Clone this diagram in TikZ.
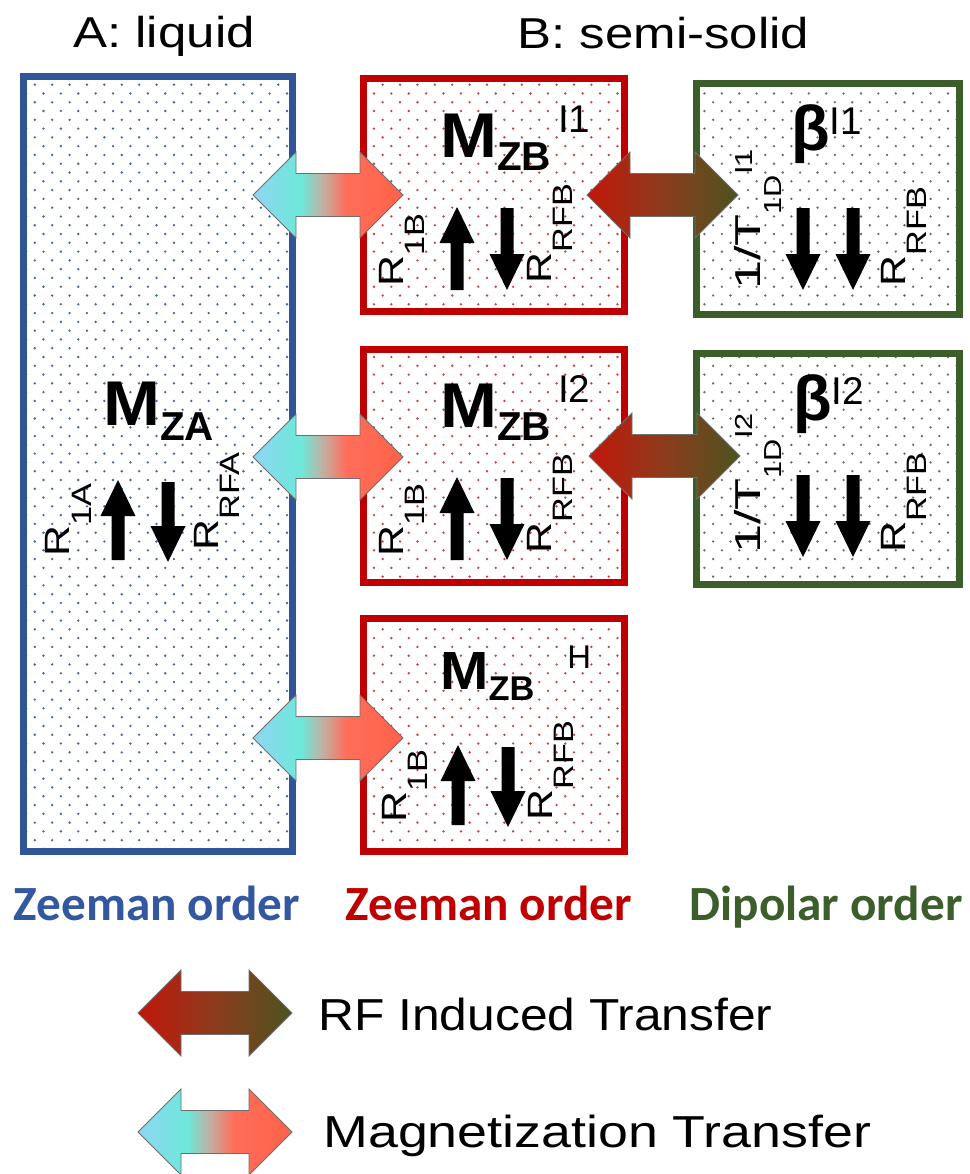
\documentclass[tikz,border=0pt]{standalone}
\usepackage{fontspec}
\setmainfont{Liberation Sans}
\newfontfamily\titlefont[FakeStretch=1.18]{Liberation Sans}
\newfontfamily\orderfont{Carlito}
\usetikzlibrary{calc,patterns}
\definecolor{blueC}{HTML}{2F5597}
\definecolor{blueT}{HTML}{3357A0}
\definecolor{redC}{HTML}{C00000}
\definecolor{greenC}{HTML}{3B5E2B}
\definecolor{blueDot}{HTML}{4263AE}
\definecolor{redDot}{HTML}{CC4040}
\definecolor{greenDot}{HTML}{6A6A6A}
\definecolor{magA}{HTML}{8ED5F2}
\definecolor{magB}{HTML}{6DE8DA}
\definecolor{magC}{HTML}{C4ADA0}
\definecolor{magD}{HTML}{FF6E5A}
\definecolor{magE}{HTML}{FF6248}
\definecolor{rfA}{HTML}{C2160A}
\definecolor{rfB}{HTML}{8C3C1C}
\definecolor{rfC}{HTML}{4B5320}
\definecolor{arrowedge}{HTML}{6E6E6E}
\pgfdeclarehorizontalshading{magshade}{100bp}{color(0bp)=(magA); color(25bp)=(magA); color(41bp)=(magB); color(48.5bp)=(magC); color(56bp)=(magD); color(75bp)=(magE); color(100bp)=(magE)}
\pgfdeclarehorizontalshading{rfshade}{100bp}{color(0bp)=(rfA); color(25bp)=(rfA); color(50bp)=(rfB); color(75bp)=(rfC); color(100bp)=(rfC)}
\pgfdeclarepatternformonly{sdots}{\pgfqpoint{-1pt}{-1pt}}{\pgfqpoint{10.9pt}{11pt}}{\pgfqpoint{9.9pt}{10pt}}{%
  \pgfpathcircle{\pgfqpoint{0pt}{0pt}}{0.75pt}%
  \pgfpathcircle{\pgfqpoint{4.95pt}{5pt}}{0.75pt}%
  \pgfusepath{fill}}
% labels
\newcommand{\Mlab}[5]{{\fontsize{36}{36}\selectfont\bfseries\scalebox{1.08}[1]{#1}}\raisebox{-#4}{\fontsize{23}{23}\selectfont\bfseries #2}\hspace{#5}\raisebox{14pt}{\fontsize{22}{22}\selectfont #3}}
\newcommand{\Rlab}[2]{\scalebox{1.22}[1]{{\fontsize{20}{20}\selectfont #1}\raisebox{-12.5pt}{\fontsize{16}{16}\selectfont #2}}}
\newcommand{\Tlab}[1]{\scalebox{1.45}[1]{\fontsize{20.5}{20}\selectfont 1/T}\scalebox{1.25}[1]{\raisebox{-12.5pt}{\fontsize{14}{14}\selectfont 1D}\raisebox{4.5pt}{\fontsize{14}{14}\selectfont #1}}}
\newcommand{\Blab}[1]{{\fontsize{36}{36}\selectfont\bfseries β}\raisebox{9pt}{\fontsize{22}{22}\selectfont #1}}
% black thick arrows (x, start y, tip y)
\newcommand{\vup}[3]{\fill (#1-6.5,#2) -- (#1-6.5,#3+36) -- (#1-17.5,#3+36) -- (#1,#3) -- (#1+17.5,#3+36) -- (#1+6.5,#3+36) -- (#1+6.5,#2) -- cycle;}
\newcommand{\vdown}[3]{\fill (#1-6.5,#2) -- (#1-6.5,#3-36) -- (#1-17.5,#3-36) -- (#1,#3) -- (#1+17.5,#3-36) -- (#1+6.5,#3-36) -- (#1+6.5,#2) -- cycle;}
% fat double arrow between two named coordinates
\newcommand{\dblarrow}[3]{\shadedraw[shading=#3, fat] (#1) -- ($(#1)+(43,-43)$) -- ($(#1)+(43,-21.5)$) -- ($(#2)+(-43,-21.5)$) -- ($(#2)+(-43,-43)$) -- (#2) -- ($(#2)+(-43,43)$) -- ($(#2)+(-43,21.5)$) -- ($(#1)+(43,21.5)$) -- ($(#1)+(43,43)$) -- cycle;}
\begin{document}
\begin{tikzpicture}[x=0.02cm,y=-0.02cm,
  obox/.style={rectangle, inner sep=0, outer sep=0, line width=0.14cm, pattern=sdots},
  rot/.style={rotate=90, anchor=base west, inner sep=0},
  lab/.style={anchor=base west, inner sep=0},
  ordl/.style={anchor=base, inner sep=0, font=\orderfont\bfseries\fontsize{28}{30}\selectfont},
  leg/.style={anchor=base west, inner sep=0, font=\fontsize{25.5}{27}\selectfont},
  fat/.style={draw=arrowedge, line width=0.5pt}]
\useasboundingbox (0,0) rectangle (970,1174);
% titles
\node[lab] (tA) at (73,47) {\titlefont\fontsize{24.6}{26}\selectfont A: liquid};
\node[lab] (tB) at (517,48) {\titlefont\fontsize{24.6}{26}\selectfont B: semi-solid};
% boxes
\node[obox, draw=blueC, pattern color=blueDot, minimum width=269*0.02cm, minimum height=775*0.02cm] (A) at (158,464) {};
\node[obox, draw=redC, pattern color=redDot, minimum width=261*0.02cm, minimum height=233*0.02cm] (B1) at (494,195) {};
\node[obox, draw=redC, pattern color=redDot, minimum width=261*0.02cm, minimum height=233*0.02cm] (B2) at (494,466) {};
\node[obox, draw=redC, pattern color=redDot, minimum width=261*0.02cm, minimum height=233*0.02cm] (B3) at (494,735) {};
\node[obox, draw=greenC, pattern color=greenDot, minimum width=263*0.02cm, minimum height=231*0.02cm] (D1) at (828,199) {};
\node[obox, draw=greenC, pattern color=greenDot, minimum width=263*0.02cm, minimum height=231*0.02cm] (D2) at (828,469) {};
% arrow end points
\coordinate (m1L) at (253,195); \coordinate (m1R) at (403,195);
\coordinate (m2L) at (253,457); \coordinate (m2R) at (403,457);
\coordinate (m3L) at (253,738); \coordinate (m3R) at (403,738);
\coordinate (r1L) at (587,195); \coordinate (r1R) at (738,195);
\coordinate (r2L) at (589,456); \coordinate (r2R) at (740,456);
\coordinate (lrL) at (138,1013); \coordinate (lrR) at (292,1013);
\coordinate (lmL) at (138,1132); \coordinate (lmR) at (292,1132);
\dblarrow{m1L}{m1R}{magshade}
\dblarrow{m2L}{m2R}{magshade}
\dblarrow{m3L}{m3R}{magshade}
\dblarrow{r1L}{r1R}{rfshade}
\dblarrow{r2L}{r2R}{rfshade}
\dblarrow{lrL}{lrR}{rfshade}
\dblarrow{lmL}{lmR}{magshade}
% main labels
\node[lab] (mza) at (103,425) {\Mlab{M}{ZA}{}{9pt}{0pt}};
\node[lab] (mzb1) at (440,157) {\Mlab{M}{ZB}{I1}{7.5pt}{4pt}};
\node[lab] (mzb2) at (440,427) {\Mlab{M}{ZB}{I2}{7.5pt}{4pt}};
\node[lab] (mzb3) at (440,689) {\scalebox{0.85}{\Mlab{M}{ZB}{H}{7.5pt}{22pt}}};
\node[lab] (beta1) at (791,150) {\Blab{I1}};
\node[lab] (beta2) at (793,420) {\Blab{I2}};
% rotated rate labels
\node[rot] (ra1) at (70,557) {\Rlab{R}{1A}};
\node[rot] (ra2) at (218,551) {\Rlab{R}{RFA}};
\node[rot] (rb11) at (403,287) {\Rlab{R}{1B}};
\node[rot] (rb12) at (551,284) {\Rlab{R}{RFB}};
\node[rot] (rb21) at (403,557) {\Rlab{R}{1B}};
\node[rot] (rb22) at (551,554) {\Rlab{R}{RFB}};
\node[rot] (rb31) at (406,823) {\Rlab{R}{1B}};
\node[rot] (rb32) at (552,821) {\Rlab{R}{RFB}};
\node[rot] (td1) at (760,290) {\Tlab{I1}};
\node[rot] (rd1) at (905,287) {\Rlab{R}{RFB}};
\node[rot] (td2) at (760,554) {\Tlab{I2}};
\node[rot] (rd2) at (905,553) {\Rlab{R}{RFB}};
% black arrows
\vup{118}{560}{480}
\vdown{168}{482}{562}
\vup{457}{290}{207}
\vdown{507}{208}{290}
\vup{457}{560}{477}
\vdown{507}{478}{560}
\vup{458}{825}{745}
\vdown{508}{747}{827}
\vdown{803}{208}{290}
\vdown{853}{208}{290}
\vdown{803}{475}{557}
\vdown{853}{475}{557}
% order labels
\node[ordl, text=blueT] (oA) at (157,920) {Zeeman order};
\node[ordl, text=redC] (oB) at (489,920) {Zeeman order};
\node[ordl, text=greenC] (oD) at (826,920) {Dipolar order};
% legend
\node[leg] (lrf) at (318,1030) {\scalebox{1.11}[1]{RF Induced Transfer}};
\node[leg] (lmag) at (323,1147) {\scalebox{1.2}[1]{Magnetization Transfer}};
\end{tikzpicture}
\end{document}
